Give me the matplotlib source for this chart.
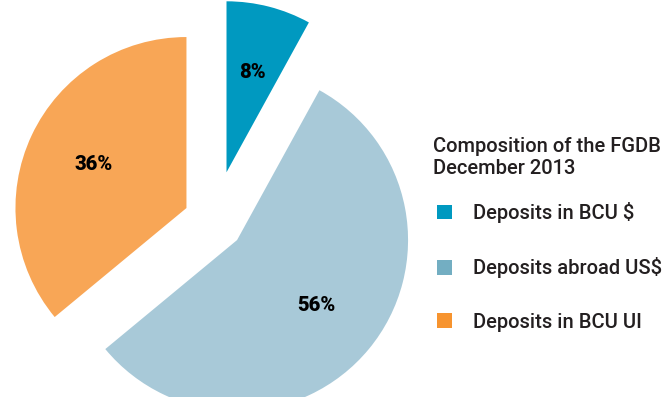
import matplotlib
matplotlib.use('Agg')
import matplotlib.pyplot as plt
from matplotlib.patches import Patch

# ---- data ----
labels = ['Deposits in BCU $', 'Deposits abroad US$', 'Deposits in BCU UI']
shares = [8, 56, 36]
pie_colors = ['#0099C0', '#A8C9D8', '#F8A656']
legend_colors = ['#0099C0', '#73AEC2', '#F7942F']
explode = [0.294, 0.175, 0.178]
legend_title = 'Composition of the FGDB\nDecember 2013'

W, H = 671, 397
R = 171.0  # pie radius in pixels (used to scale the axes units)

fig = plt.figure(figsize=(W / 100, H / 100), dpi=100)
ax = fig.add_axes([0, 0, 1, 1])

center = (214 / R, (H - 221) / R)
wedges, texts, autotexts = ax.pie(
    shares, explode=explode, colors=pie_colors, startangle=90,
    counterclock=False, radius=1.0, center=center,
    autopct=lambda p: f'{p:.0f}%', pctdistance=0.6, frame=True,
    wedgeprops=dict(linewidth=0),
    textprops=dict(fontsize=14.5, fontweight='black', color='black',
                   family=['Roboto', 'DejaVu Sans']))
ax.set_xlim(0, W / R)
ax.set_ylim(0, H / R)
ax.set_aspect('equal')
ax.axis('off')

fp = dict(family=['Roboto', 'DejaVu Sans'], weight='medium', size=14.5)
fig.text(433 / W, 1 - 137 / H, legend_title, ha='left', va='top',
         color='#231F20', linespacing=1.2, fontdict=fp)

handles = [Patch(facecolor=c, edgecolor='none') for c in legend_colors]
leg = fig.legend(handles, labels,
                 loc='upper left', bbox_to_anchor=(423 / W, 1 - 188 / H),
                 frameon=False, prop=fp,
                 handlelength=0.75, handleheight=0.75, handletextpad=1.05,
                 labelspacing=1.7, borderpad=0.2)
for t in leg.get_texts():
    t.set_color('#231F20')

fig.savefig('out.png', dpi=100)
